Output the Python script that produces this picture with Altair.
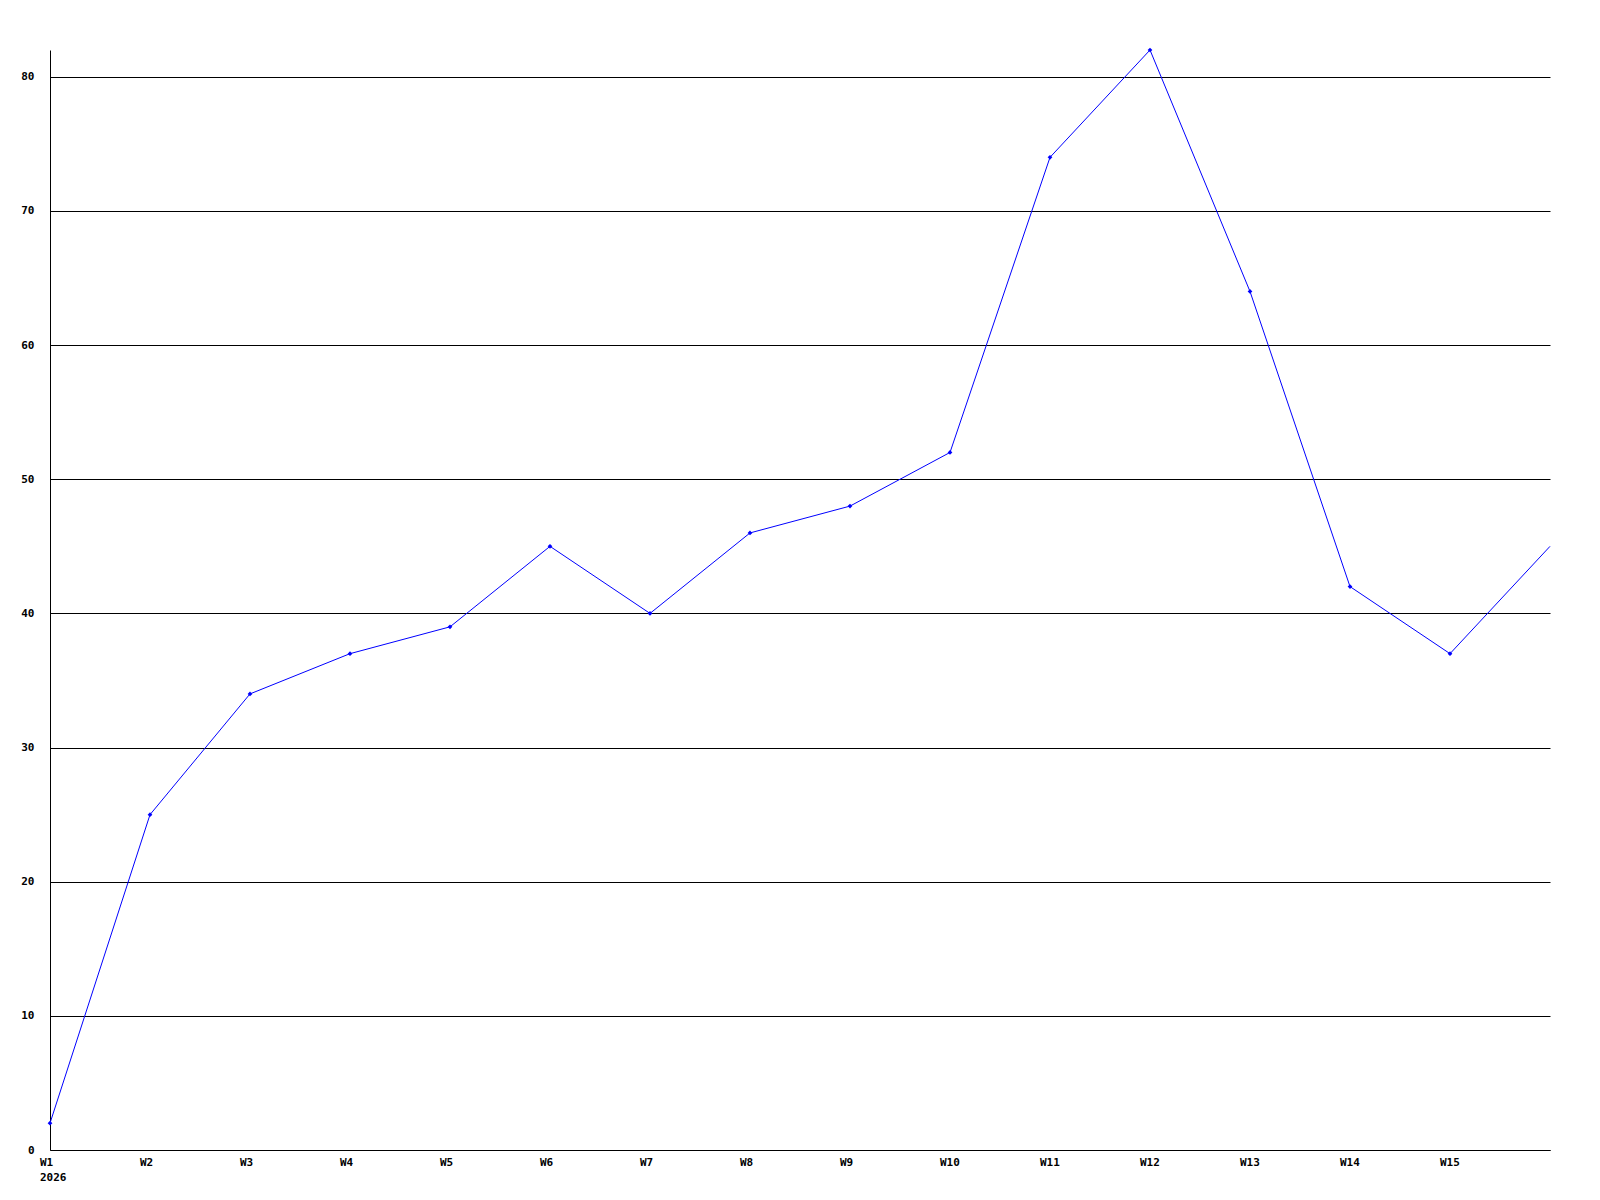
import altair as alt
import pandas as pd

weeks = list(range(1, 17))
values = [2, 25, 34, 37, 39, 45, 40, 46, 48, 52, 74, 82, 64, 42, 37, 45]
x_ticks = list(range(1, 16))
x_labels = ["W1\n2026"] + [f"W{w}" for w in range(2, 16)]
y_ticks = [0, 10, 20, 30, 40, 50, 60, 70, 80]

df = pd.DataFrame({"week": weeks, "value": values})
lab_df = pd.DataFrame({"week": x_ticks, "label": x_labels})

FONT = "DejaVu Sans Mono"

xscale = alt.Scale(domain=[1, 16], nice=False, zero=False)
x = alt.X(
    "week:Q",
    scale=xscale,
    axis=alt.Axis(
        values=x_ticks,
        labels=False,
        title=None,
        grid=False,
        ticks=False,
        domainColor="black",
        domainWidth=1,
    ),
)
y = alt.Y(
    "value:Q",
    scale=alt.Scale(domain=[0, 82], nice=False),
    axis=alt.Axis(
        values=y_ticks,
        title=None,
        grid=True,
        gridColor="black",
        gridOpacity=1,
        gridWidth=1,
        ticks=False,
        domainColor="black",
        domainWidth=1,
        labelFont=FONT,
        labelFontWeight="bold",
        labelFontSize=11,
        labelColor="black",
        labelPadding=16,
        labelBaseline="middle",
        labelFlush=False,
        labelOverlap=False,
    ),
)

line = alt.Chart(df).mark_line(color="#0000ff", strokeWidth=1).encode(x=x, y=y)
pts = (
    alt.Chart(df)
    .transform_filter("datum.week < 16")
    .mark_point(shape="diamond", filled=True, color="#0000ff", size=22, opacity=1)
    .encode(x=x, y=y)
)
labels = (
    alt.Chart(lab_df)
    .mark_text(
        font=FONT,
        fontWeight="bold",
        fontSize=11,
        color="black",
        align="left",
        baseline="top",
        dx=-10,
        lineBreak="\n",
        lineHeight=15,
    )
    .encode(
        x=alt.X("week:Q", scale=xscale),
        y=alt.value(1107),
        text="label:N",
    )
)

chart = (
    alt.layer(line, pts, labels)
    .properties(
        width=1500,
        height=1100,
        autosize=alt.AutoSizeParams(type="none"),
        padding={"left": 42, "top": 42, "right": 40, "bottom": 40},
        background="white",
    )
    .configure_view(stroke=None)
)

chart.save("out.html", embed_options={"renderer": "svg", "actions": False})
